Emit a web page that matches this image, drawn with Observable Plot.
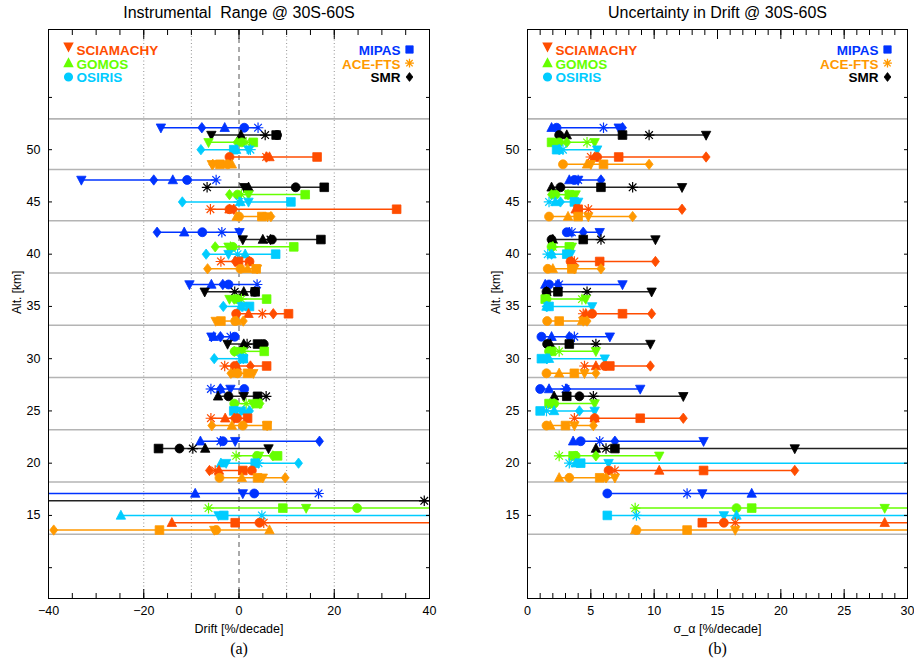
<!DOCTYPE html>
<html><head><meta charset="utf-8">
<script src="https://cdn.jsdelivr.net/npm/d3@7"></script>
<script src="https://cdn.jsdelivr.net/npm/@observablehq/plot@0.6"></script>
<style>
html,body{margin:0;padding:0;background:#fff;}
#chart{position:relative;width:914px;height:658px;display:flex;}
#chart svg{overflow:visible;}
</style></head><body><div id="chart"></div>
<script>
// Instruments (row order top to bottom inside each altitude bin)
const codes = ["M", "R", "G", "O", "S", "A"];
const names = {S: "SCIAMACHY", G: "GOMOS", O: "OSIRIS", M: "MIPAS", A: "ACE-FTS", R: "SMR"};
const colors = {S: "#ff4d00", G: "#66ff00", O: "#00ccff", M: "#0033ff", A: "#ff9900", R: "#000000"};

// altitude bins [km]
const altitudes = [50, 45, 40, 35, 30, 25, 20, 15];
const separators = [52.95, 48.1, 43.2, 38.2, 33.2, 28.2, 23.2, 18.2, 13.2];

// instrument pairs (row instrument, marker instrument)
const pairFirst  = ["M","M","M","M","M","R","R","R","R","G","G","G","O","O","S"];
const pairSecond = ["S","G","O","A","R","S","G","O","A","S","O","A","S","A","A"];

// (a) drift [%/decade] of first relative to second, per altitude bin
const drift50 = [-16.4, -3.0, 1.1, 4.0, -7.8, -5.8, 0.4, 8.0, 5.5, -6.4, 0.6, 1.5, 2.0, 2.4, 5.7];
const drift45 = [-33.1, -13.9, -10.9, -4.8, -17.9, 1.1, 2.0, 11.9, -6.7, 2.0, -0.3, 0.5, 2.0, 0.0, -6.0];
const drift40 = [0.1, -11.5, -7.7, -3.6, -17.2, 0.8, 5.0, 6.9, 6.6, -2.2, -1.3, -1.8, -2.2, -0.3, -3.8];
const drift35 = [-10.4, -5.8, -2.2, 3.8, -3.4, -7.2, 1.0, 3.3, -0.9, -2.0, -0.4, 0.5, 0.6, 0.8, 4.9];
const drift30 = [-5.8, -5.3, -0.9, -1.8, -3.9, -2.4, 1.0, 5.2, 1.7, 0.5, -0.9, 1.0, 0.9, 0.3, -3.0];
const drift25 = [-1.8, -3.9, 1.1, -5.9, -3.9, 1.0, -4.4, -2.2, 5.7, 2.9, -1.0, 1.5, 0.4, -0.8, -5.9];
const drift20 = [-0.8, -8.1, -3.4, -3.9, 16.9, 6.2, -7.1, -12.5, -9.7, 4.2, 3.8, -0.6, -2.7, 4.1, -5.0];
const drift15 = [0.8, -9.2, 3.2, 16.7, -55, -52, -50, -48, 38.9, 14.1, 24.8, -6.4, -4.3, 4.8, 5.2];

// (b) uncertainty in drift sigma_alpha [%/decade]
const sigma50 = [7.2, 1.9, 2.3, 6.0, 7.5, 14.1, 3.1, 2.5, 9.6, 5.3, 2.5, 4.7, 5.5, 2.8, 5.0];
const sigma45 = [4.0, 3.3, 3.7, 4.0, 5.8, 12.2, 1.9, 2.6, 8.3, 3.8, 2.2, 3.2, 4.0, 1.7, 4.8];
const sigma40 = [5.7, 3.3, 3.1, 3.5, 4.4, 10.1, 2.0, 1.9, 5.8, 3.5, 1.9, 2.0, 3.4, 1.6, 3.7];
const sigma35 = [7.5, 1.4, 1.7, 2.5, 2.4, 9.8, 1.5, 1.5, 4.7, 4.6, 1.5, 4.3, 5.1, 1.55, 4.4];
const sigma30 = [6.5, 1.9, 1.1, 3.7, 3.3, 9.7, 1.8, 1.55, 5.4, 5.4, 1.7, 2.5, 6.1, 1.5, 4.5];
const sigma25 = [8.9, 1.7, 1.0, 3.0, 3.1, 12.3, 2.1, 4.1, 5.2, 5.3, 2.1, 1.8, 5.3, 1.5, 3.7];
const sigma20 = [13.9, 3.6, 4.2, 5.7, 6.9, 21.1, 5.4, 35, 6.2, 10.4, 3.8, 2.5, 6.4, 3.3, 6.9];
const sigma15 = [13.8, 17.7, 6.3, 12.6, 40, 40, 40, 40, 40, 28.2, 16.5, 8.5, 15.5, 8.6, 16.4];

const driftTable = [drift50, drift45, drift40, drift35, drift30, drift25, drift20, drift15];
const sigmaTable = [sigma50, sigma45, sigma40, sigma35, sigma30, sigma25, sigma20, sigma15];

// layout: vertical offset of each instrument row within a bin (km)
const rowOffset = {M: 2.1, R: 1.4, G: 0.7, O: 0, S: -0.7, A: -1.4};

// marker symbols (Matlab-like)
const rOf = s => Math.sqrt(s / Math.PI);
const symbols = {
  S: {draw(c, s) { const r = rOf(s); c.moveTo(0, 1.1*r); c.lineTo(-r, -0.8*r); c.lineTo(r, -0.8*r); c.closePath(); }},
  G: {draw(c, s) { const r = rOf(s); c.moveTo(0, -1.1*r); c.lineTo(r, 0.8*r); c.lineTo(-r, 0.8*r); c.closePath(); }},
  O: {draw(c, s) { const r = rOf(s)*0.95; c.moveTo(r, 0); c.arc(0, 0, r, 0, 2*Math.PI); c.closePath(); }},
  M: {draw(c, s) { const h = rOf(s)*0.92; c.moveTo(-h, -h); c.lineTo(h, -h); c.lineTo(h, h); c.lineTo(-h, h); c.closePath(); }},
  A: {draw(c, s) { const r = rOf(s)*1.1, d = r*0.72;
      c.moveTo(-r, 0); c.lineTo(r, 0); c.moveTo(0, -r); c.lineTo(0, r);
      c.moveTo(-d, -d); c.lineTo(d, d); c.moveTo(-d, d); c.lineTo(d, -d); }},
  R: {draw(c, s) { const r = rOf(s); c.moveTo(0, -1.1*r); c.lineTo(0.85*r, 0); c.lineTo(0, 1.1*r); c.lineTo(-0.85*r, 0); c.closePath(); }}
};

function buildRows(table, sign) {
  const pts = [], lines = [];
  altitudes.forEach((alt, ai) => {
    const vals = table[ai];
    codes.forEach(X => {
      const y = alt + rowOffset[X];
      const rowPts = [];
      codes.forEach(Y => {
        if (X === Y) return;
        let v;
        for (let k = 0; k < pairFirst.length; k++) {
          if (pairFirst[k] === X && pairSecond[k] === Y) v = vals[k];
          if (pairFirst[k] === Y && pairSecond[k] === X) v = sign * vals[k];
        }
        rowPts.push({alt, y, x: v, row: X, marker: Y});
      });
      pts.push(...rowPts);
      lines.push({y, row: X, x1: d3.min(rowPts, d => d.x), x2: d3.max(rowPts, d => d.x)});
    });
  });
  return {pts, lines};
}

const font = "'Liberation Sans', Arial, Helvetica, sans-serif";

function panel({table, sign, domain, marginLeft, marginRight, major, minor, labels, grid, title, xlabel, caption}) {
  const {pts, lines} = buildRows(table, sign);
  const dataMarks = [];
  codes.forEach(X => {
    dataMarks.push(Plot.ruleY(lines.filter(d => d.row === X), {y: "y", x1: "x1", x2: "x2", stroke: X === "R" ? "#222" : colors[X], strokeWidth: 1.5, clip: true}));
    codes.forEach(Y => {
      if (X === Y) return;
      const isStar = Y === "A";
      dataMarks.push(Plot.dot(pts.filter(d => d.row === X && d.marker === Y), {
        x: "x", y: "y", r: isStar ? 4.8 : 4.7, symbol: symbols[Y],
        fill: isStar ? "none" : colors[X], stroke: colors[X], strokeWidth: isStar ? 1.2 : 0.8, clip: true
      }));
    });
  });
  const legendLeft = ["S", "G", "O"], legendRight = ["M", "A", "R"];
  const legendDy = [21, 34.7, 48.5];
  const legend = [];
  legendLeft.forEach((c, i) => {
    legend.push(Plot.text([names[c]], {frameAnchor: "top-left", dx: 28, dy: legendDy[i], text: d => d, fill: colors[c], fontSize: 13.5, fontWeight: "bold", textAnchor: "start", lineAnchor: "middle"}));
    legend.push(Plot.dot([0], {frameAnchor: "top-left", dx: 20, dy: legendDy[i] - (c === "S" ? 4 : 1), symbol: symbols[c], r: 4, fill: colors[c], stroke: colors[c]}));
  });
  legendRight.forEach((c, i) => {
    legend.push(Plot.text([names[c]], {frameAnchor: "top-right", dx: -29, dy: legendDy[i], text: d => d, fill: colors[c], fontSize: 13.5, fontWeight: "bold", textAnchor: "end", lineAnchor: "middle"}));
    legend.push(Plot.dot([0], {frameAnchor: "top-right", dx: -20, dy: legendDy[i] - 1, symbol: symbols[c], r: 4, fill: c === "A" ? "none" : colors[c], stroke: colors[c], strokeWidth: c === "A" ? 1.3 : 0.8}));
  });
  return Plot.plot({
    width: 457, height: 658, marginLeft, marginRight, marginTop: 29, marginBottom: 60,
    style: {fontFamily: font, fontSize: "12px", background: "white", color: "black"},
    x: {domain},
    y: {domain: [7.05, 61.5]},
    marks: [
      grid ? Plot.ruleX(grid, {stroke: "#777", strokeWidth: 0.8, strokeDasharray: "1,2.5"}) : null,
      grid ? Plot.ruleX([0], {stroke: "#555", strokeWidth: 1, strokeDasharray: "5,4"}) : null,
      Plot.ruleY(separators, {stroke: "#b4b4b4", strokeWidth: 1.6}),
      ...dataMarks,
      Plot.frame({stroke: "black", strokeWidth: 1}),
      Plot.axisX({anchor: "bottom", ticks: labels, tickSize: 0, tickPadding: 8, label: null, fontSize: 12.5}),
      Plot.axisX({anchor: "bottom", ticks: minor, tickSize: -5, fill: "none", label: null}),
      Plot.axisX({anchor: "bottom", ticks: major, tickSize: -9, fill: "none", label: null}),
      Plot.axisX({anchor: "top", ticks: minor, tickSize: -5, fill: "none", label: null}),
      Plot.axisX({anchor: "top", ticks: major, tickSize: -9, fill: "none", label: null}),
      Plot.axisY({anchor: "left", ticks: [15, 20, 25, 30, 35, 40, 45, 50], tickSize: 0, tickPadding: 8, label: null, fontSize: 12.5}),
      Plot.axisY({anchor: "left", ticks: [10, 15, 20, 25, 30, 35, 40, 45, 50, 55], tickSize: -4, fill: "none", label: null}),
      Plot.axisY({anchor: "right", ticks: [10, 15, 20, 25, 30, 35, 40, 45, 50, 55], tickSize: -4, fill: "none", label: null}),
      ...legend,
      Plot.text([title], {frameAnchor: "top", dy: -17, text: d => d, fontSize: 16, lineAnchor: "middle"}),
      Plot.text([xlabel], {frameAnchor: "bottom", dy: 30, text: d => d, fontSize: 12.5, lineAnchor: "middle"}),
      Plot.text([caption], {frameAnchor: "bottom", dy: 50, text: d => d, fontSize: 16, lineAnchor: "middle", fontFamily: "'Liberation Serif', 'Times New Roman', serif"}),
      Plot.text(["Alt. [km]"], {frameAnchor: "left", dx: -31, text: d => d, fontSize: 12, rotate: -90, lineAnchor: "middle"})
    ]
  });
}

const chart = document.getElementById("chart");
chart.append(panel({
  table: driftTable, sign: -1, domain: [-40, 40], marginLeft: 48, marginRight: 28,
  labels: [-40, -20, 0, 20, 40], major: [-20, 0, 20], minor: d3.range(-40, 41, 5),
  grid: [-20, -10, 10, 20], title: "Instrumental  Range @ 30S-60S", xlabel: "Drift [%/decade]", caption: "(a)"
}));
chart.append(panel({
  table: sigmaTable, sign: 1, domain: [0, 30], marginLeft: 70, marginRight: 7,
  labels: [0, 5, 10, 15, 20, 25, 30], major: d3.range(0, 31, 5), minor: d3.range(0, 31, 1),
  grid: null, title: "Uncertainty in Drift @ 30S-60S", xlabel: "σ_α [%/decade]", caption: "(b)"
}));
</script></body></html>
